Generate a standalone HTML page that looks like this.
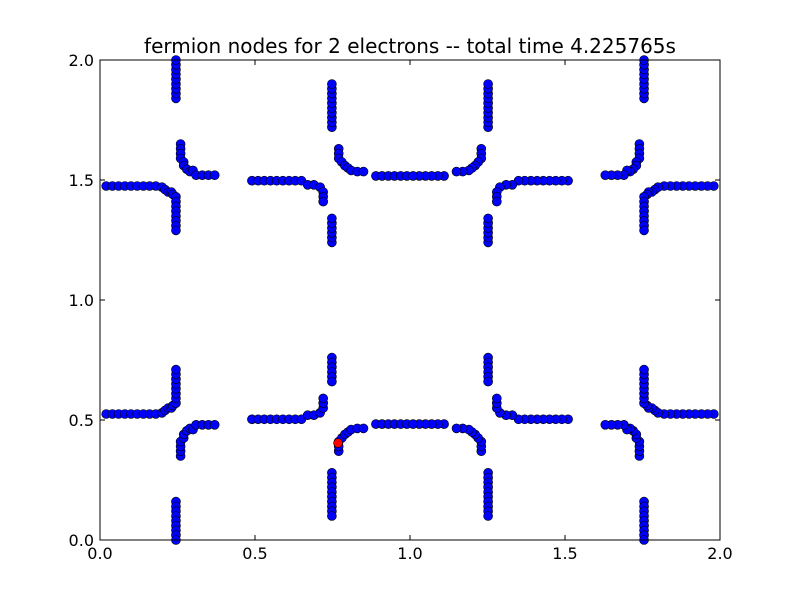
<!DOCTYPE html>
<html><head><meta charset="utf-8"><style>
body{margin:0;background:#fff;}
svg{display:block;font-family:"DejaVu Sans","Liberation Sans",sans-serif;}
</style></head><body>
<svg id="chart" width="800" height="600">
<rect x="0" y="0" width="800" height="600" fill="#fff"/>
<text x="410" y="53" text-anchor="middle" font-size="20">fermion nodes for 2 electrons -- total time 4.225765s</text>
<g id="points"></g>
<rect x="100" y="60" width="620" height="480" fill="none" stroke="#000" stroke-width="1"/>
<g id="axes"></g>
</svg>
<script>
const xTicks=[0,0.5,1,1.5,2];
const xTickLabels=["0.0","0.5","1.0","1.5","2.0"];
const yTicks=[0,0.5,1,1.5,2];
const yTickLabels=["0.0","0.5","1.0","1.5","2.0"];
const nodesTL=[[.245,1.84],[.245,1.86],[.245,1.88],[.245,1.90],[.245,1.92],[.245,1.94],[.245,1.96],[.245,1.98],[.245,2.00],
[.02,1.475],[.04,1.475],[.06,1.475],[.08,1.475],[.10,1.475],[.12,1.475],[.14,1.475],[.16,1.475],[.18,1.475],[.20,1.47],[.21,1.46],[.22,1.45],[.23,1.45],[.235,1.44],[.245,1.43],[.245,1.41],[.245,1.39],[.245,1.37],[.245,1.35],[.245,1.33],[.245,1.31],[.245,1.29],
[.26,1.65],[.26,1.63],[.26,1.61],[.26,1.59],[.27,1.575],[.27,1.56],[.28,1.545],[.29,1.535],[.30,1.54],[.31,1.52],[.33,1.52],[.35,1.52],[.37,1.52],
[.49,1.497],[.51,1.497],[.53,1.497],[.55,1.497],[.57,1.497],[.59,1.497],[.61,1.497],[.63,1.497],[.65,1.497],[.67,1.48],[.69,1.48],[.71,1.47],[.72,1.45],[.72,1.43],[.72,1.41],
[.748,1.72],[.748,1.74],[.748,1.76],[.748,1.78],[.748,1.80],[.748,1.82],[.748,1.84],[.748,1.86],[.748,1.88],[.748,1.90],
[.748,1.24],[.748,1.26],[.748,1.28],[.748,1.30],[.748,1.32],[.748,1.34],
[.77,1.63],[.77,1.61],[.77,1.59],[.78,1.575],[.79,1.56],[.80,1.55],[.81,1.54],[.83,1.535],[.85,1.535],
[.89,1.517],[.91,1.517],[.93,1.517],[.95,1.517],[.97,1.517],[.99,1.517]];
const nodesTR=[[1.755,1.84],[1.755,1.86],[1.755,1.88],[1.755,1.90],[1.755,1.92],[1.755,1.94],[1.755,1.96],[1.755,1.98],[1.755,2.00],
[1.98,1.475],[1.96,1.475],[1.94,1.475],[1.92,1.475],[1.90,1.475],[1.88,1.475],[1.86,1.475],[1.84,1.475],[1.82,1.475],[1.80,1.47],[1.79,1.46],[1.78,1.45],[1.77,1.45],[1.765,1.44],[1.755,1.43],[1.755,1.41],[1.755,1.39],[1.755,1.37],[1.755,1.35],[1.755,1.33],[1.755,1.31],[1.755,1.29],
[1.74,1.65],[1.74,1.63],[1.74,1.61],[1.74,1.59],[1.73,1.575],[1.73,1.56],[1.72,1.545],[1.71,1.535],[1.70,1.54],[1.69,1.52],[1.67,1.52],[1.65,1.52],[1.63,1.52],
[1.51,1.497],[1.49,1.497],[1.47,1.497],[1.45,1.497],[1.43,1.497],[1.41,1.497],[1.39,1.497],[1.37,1.497],[1.35,1.497],[1.33,1.48],[1.31,1.48],[1.29,1.47],[1.28,1.45],[1.28,1.43],[1.28,1.41],
[1.252,1.72],[1.252,1.74],[1.252,1.76],[1.252,1.78],[1.252,1.80],[1.252,1.82],[1.252,1.84],[1.252,1.86],[1.252,1.88],[1.252,1.90],
[1.252,1.24],[1.252,1.26],[1.252,1.28],[1.252,1.30],[1.252,1.32],[1.252,1.34],
[1.23,1.63],[1.23,1.61],[1.23,1.59],[1.22,1.575],[1.21,1.56],[1.20,1.55],[1.19,1.54],[1.17,1.535],[1.15,1.535],
[1.11,1.517],[1.09,1.517],[1.07,1.517],[1.05,1.517],[1.03,1.517],[1.01,1.517]];
const nodesBL=[[.245,.16],[.245,.14],[.245,.12],[.245,.10],[.245,.08],[.245,.06],[.245,.04],[.245,.02],[.245,0],
[.02,.525],[.04,.525],[.06,.525],[.08,.525],[.10,.525],[.12,.525],[.14,.525],[.16,.525],[.18,.525],[.20,.53],[.21,.54],[.22,.55],[.23,.55],[.235,.56],[.245,.57],[.245,.59],[.245,.61],[.245,.63],[.245,.65],[.245,.67],[.245,.69],[.245,.71],
[.26,.35],[.26,.37],[.26,.39],[.26,.41],[.27,.425],[.27,.44],[.28,.455],[.29,.465],[.30,.46],[.31,.48],[.33,.48],[.35,.48],[.37,.48],
[.49,.503],[.51,.503],[.53,.503],[.55,.503],[.57,.503],[.59,.503],[.61,.503],[.63,.503],[.65,.503],[.67,.52],[.69,.52],[.71,.53],[.72,.55],[.72,.57],[.72,.59],
[.748,.28],[.748,.26],[.748,.24],[.748,.22],[.748,.20],[.748,.18],[.748,.16],[.748,.14],[.748,.12],[.748,.10],
[.748,.76],[.748,.74],[.748,.72],[.748,.70],[.748,.68],[.748,.66],
[.77,.37],[.77,.39],[.77,.41],[.78,.425],[.79,.44],[.80,.45],[.81,.46],[.83,.465],[.85,.465],
[.89,.483],[.91,.483],[.93,.483],[.95,.483],[.97,.483],[.99,.483]];
const nodesBR=[[1.755,.16],[1.755,.14],[1.755,.12],[1.755,.10],[1.755,.08],[1.755,.06],[1.755,.04],[1.755,.02],[1.755,0],
[1.98,.525],[1.96,.525],[1.94,.525],[1.92,.525],[1.90,.525],[1.88,.525],[1.86,.525],[1.84,.525],[1.82,.525],[1.80,.53],[1.79,.54],[1.78,.55],[1.77,.55],[1.765,.56],[1.755,.57],[1.755,.59],[1.755,.61],[1.755,.63],[1.755,.65],[1.755,.67],[1.755,.69],[1.755,.71],
[1.74,.35],[1.74,.37],[1.74,.39],[1.74,.41],[1.73,.425],[1.73,.44],[1.72,.455],[1.71,.465],[1.70,.46],[1.69,.48],[1.67,.48],[1.65,.48],[1.63,.48],
[1.51,.503],[1.49,.503],[1.47,.503],[1.45,.503],[1.43,.503],[1.41,.503],[1.39,.503],[1.37,.503],[1.35,.503],[1.33,.52],[1.31,.52],[1.29,.53],[1.28,.55],[1.28,.57],[1.28,.59],
[1.252,.28],[1.252,.26],[1.252,.24],[1.252,.22],[1.252,.20],[1.252,.18],[1.252,.16],[1.252,.14],[1.252,.12],[1.252,.10],
[1.252,.76],[1.252,.74],[1.252,.72],[1.252,.70],[1.252,.68],[1.252,.66],
[1.23,.37],[1.23,.39],[1.23,.41],[1.22,.425],[1.21,.44],[1.20,.45],[1.19,.46],[1.17,.465],[1.15,.465],
[1.11,.483],[1.09,.483],[1.07,.483],[1.05,.483],[1.03,.483],[1.01,.483]];
const walkerX=[0.768];
const walkerY=[0.404];

const NS="http://www.w3.org/2000/svg";
const X0=100,X1=720,Y0=540,Y1=60;
function sx(v){return X0+(v-0)/(2-0)*(X1-X0);}
function sy(v){return Y0-(v-0)/(2-0)*(Y0-Y1);}
const pg=document.getElementById('points');
function dot(x,y,fill){
  const c=document.createElementNS(NS,'circle');
  c.setAttribute('cx',sx(x));c.setAttribute('cy',sy(y));c.setAttribute('r',4.5);
  c.setAttribute('fill',fill);c.setAttribute('stroke','#000');c.setAttribute('stroke-width','0.6');
  return c;
}
[nodesTL,nodesTR,nodesBL,nodesBR].forEach(arr=>{
  arr.forEach(p=>{
    const c=dot(p[0],p[1],'#0000ff');
    
    
    pg.appendChild(c);
  });
});
walkerX.forEach((x,i)=>{
  const c=dot(x,walkerY[i],'#ff0000');
  
  
  pg.appendChild(c);
});
const ax=document.getElementById('axes');
function line(x1,y1,x2,y2){
  const l=document.createElementNS(NS,'line');
  l.setAttribute('x1',x1);l.setAttribute('y1',y1);l.setAttribute('x2',x2);l.setAttribute('y2',y2);
  l.setAttribute('stroke','#000');l.setAttribute('stroke-width','1');
  return l;
}
xTicks.forEach((v,i)=>{
  const x=sx(v);
  const t1=line(x,Y0,x,Y0-5);
  
  
  ax.appendChild(t1);
  const t2=line(x,Y1,x,Y1+5);
  
  
  ax.appendChild(t2);
  const t=document.createElementNS(NS,'text');
  t.setAttribute('x',x);t.setAttribute('y',Y0+19);t.setAttribute('text-anchor','middle');t.setAttribute('font-size','16');
  t.textContent=xTickLabels[i];
  
  
  ax.appendChild(t);
});
yTicks.forEach((v,i)=>{
  const y=sy(v);
  const t1=line(X0,y,X0+5,y);
  
  
  ax.appendChild(t1);
  const t2=line(X1,y,X1-5,y);
  
  
  ax.appendChild(t2);
  const t=document.createElementNS(NS,'text');
  t.setAttribute('x',X0-6);t.setAttribute('y',y+6);t.setAttribute('text-anchor','end');t.setAttribute('font-size','16');
  t.textContent=yTickLabels[i];
  
  
  ax.appendChild(t);
});
</script>
</body></html>
